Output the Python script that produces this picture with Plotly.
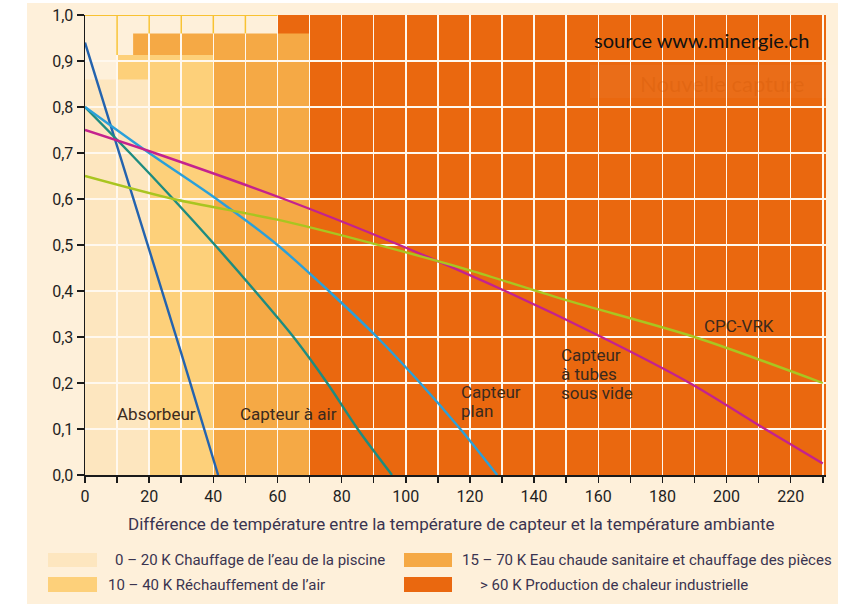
import plotly.graph_objects as go

# ---------------- data ----------------
# application bands (temperature ranges)
band_labels = [
    "0 – 20 K Chauffage de l’eau de la piscine",
    "10 – 40 K Réchauffement de l’air",
    "15 – 70 K Eau chaude sanitaire et chauffage des pièces",
    "> 60 K Production de chaleur industrielle",
]
band_x0 = [0, 10, 15, 60]
band_x1 = [20, 40, 70, 231]
band_top = [0.86, 0.913, 0.96, 1.0]
band_colors = ["#FDE6BF", "#FDD07A", "#F5A945", "#EA680F"]

# efficiency curves
absorbeur_x = [0, 10, 20, 30, 41.5]
absorbeur_y = [0.94, 0.715, 0.49, 0.265, 0.0]

air_x = [0, 14, 27.5, 40.5, 53, 65, 75.5, 85, 95.7]
air_y = [0.80, 0.70, 0.60, 0.50, 0.40, 0.30, 0.20, 0.10, 0.0]

plan_x = [0, 20, 41, 60, 76, 91, 104.5, 117, 128.5]
plan_y = [0.80, 0.70, 0.60, 0.50, 0.40, 0.30, 0.20, 0.10, 0.0]

tubes_x = [0, 21.7, 62, 98, 131, 161, 188.5, 212, 230]
tubes_y = [0.75, 0.70, 0.60, 0.50, 0.40, 0.30, 0.20, 0.10, 0.025]

cpc_x = [0, 27.5, 60, 86, 120, 150, 190, 230]
cpc_y = [0.65, 0.60, 0.555, 0.51, 0.445, 0.38, 0.30, 0.20]

curve_names = ["Absorbeur", "Capteur à air", "Capteur plan",
               "Capteur à tubes sous vide", "CPC-VRK"]
curve_colors = ["#2463AE", "#1E8C80", "#2AA0DA", "#C4228E", "#A9C520"]
curves = [(absorbeur_x, absorbeur_y), (air_x, air_y), (plan_x, plan_y),
          (tubes_x, tubes_y), (cpc_x, cpc_y)]

curve_label_text = ["Absorbeur", "Capteur à air", "Capteur<br>plan",
                    "Capteur<br>à tubes<br>sous vide", "CPC-VRK"]
curve_label_x = [9.4, 47.7, 116.6, 147.8, 192.3]
curve_label_y = [0.133, 0.133, 0.159, 0.22, 0.324]

x_ticks = list(range(0, 231, 10))
x_ticktext = [str(v) if v % 20 == 0 else "" for v in x_ticks]
y_ticks = [i / 10 for i in range(11)]
y_ticktext = [f"{v:.1f}".replace(".", ",") for v in y_ticks]

x_title = "Différence de température entre la température de capteur et la température ambiante"
source_text = "source www.minergie.ch"

# ---------------- figure ----------------
BG = "#FEF0DA"
FONT = "Roboto, 'Open Sans', sans-serif"
W, H = 856, 604
L, T = 85, 15
pw, ph = 741, 460
R, B = W - L - pw, H - T - ph


def px_to_paper_x(px):
    return (px - L) / pw


def px_to_paper_y(py):
    return (T + ph - py) / ph


fig = go.Figure()
shapes = []

# cream page background (paper coords)
shapes.append(dict(type="rect", xref="paper", yref="paper", layer="below",
                   x0=px_to_paper_x(27), x1=px_to_paper_x(838),
                   y0=px_to_paper_y(610), y1=px_to_paper_y(3),
                   fillcolor=BG, line=dict(width=0)))

# bands, drawn from widest (bottom) to narrowest (top)
for i in reversed(range(len(band_x0))):
    shapes.append(dict(type="rect", xref="x", yref="y", layer="below",
                       x0=band_x0[i], x1=band_x1[i], y0=0, y1=band_top[i],
                       fillcolor=band_colors[i], line=dict(width=0)))

# yellow outline of the top uncovered strip
YEL = "#F8C232"
shapes.append(dict(type="line", xref="x", yref="y", layer="between",
                   x0=0, x1=band_x0[3], y0=1.0, y1=1.0,
                   line=dict(color=YEL, width=2)))
for xv in x_ticks:
    if 0 < xv < band_x0[3]:
        cover = [band_top[i] for i in range(len(band_x0))
                 if band_x0[i] <= xv < band_x1[i]]
        top = max(cover) if cover else 0
        if top < 1.0:
            shapes.append(dict(type="line", xref="x", yref="y", layer="between",
                               x0=xv, x1=xv, y0=top, y1=1.0,
                               line=dict(color=YEL, width=1.5)))

# legend swatches
sw_x = [(48, 97), (48, 97), (404, 452), (404, 452)]
sw_y = [(553, 567), (577, 592), (553, 567), (577, 592)]
txt_x = [113, 106, 460, 478]
for i in range(4):
    shapes.append(dict(type="rect", xref="paper", yref="paper", layer="above",
                       x0=px_to_paper_x(sw_x[i][0]), x1=px_to_paper_x(sw_x[i][1]),
                       y0=px_to_paper_y(sw_y[i][1]), y1=px_to_paper_y(sw_y[i][0]),
                       fillcolor=band_colors[i], line=dict(width=0)))

# faint "Nouvelle capture" overlay box
shapes.append(dict(type="rect", xref="paper", yref="paper", layer="above",
                   x0=px_to_paper_x(590), x1=px_to_paper_x(838),
                   y0=px_to_paper_y(98), y1=px_to_paper_y(65),
                   fillcolor="rgba(255,255,255,0.04)", line=dict(width=0)))

# curves
for (xs, ys), name, col in zip(curves, curve_names, curve_colors):
    fig.add_trace(go.Scatter(x=xs, y=ys, mode="lines", name=name,
                             line=dict(color=col, width=2.4, shape="spline",
                                       smoothing=0.8),
                             showlegend=False, hoverinfo="skip"))

annotations = []
LINE_H = 19
for t, xv, yv in zip(curve_label_text, curve_label_x, curve_label_y):
    lines = t.split("<br>")
    n = len(lines)
    for k, ln in enumerate(lines):
        annotations.append(dict(text=ln, x=xv, y=yv, xref="x", yref="y",
                                yshift=((n - 1) / 2 - k) * LINE_H,
                                xanchor="left", yanchor="middle",
                                showarrow=False, align="left",
                                font=dict(family=FONT, size=17,
                                          color="#3A2A1E")))

for i in range(4):
    yc = (sw_y[i][0] + sw_y[i][1]) / 2
    annotations.append(dict(text=band_labels[i], x=px_to_paper_x(txt_x[i]),
                            y=px_to_paper_y(yc), xref="paper", yref="paper",
                            xanchor="left", yanchor="middle", showarrow=False,
                            font=dict(family=FONT, size=15, color="#3A3450")))

annotations.append(dict(text=x_title, x=px_to_paper_x(451.5), y=px_to_paper_y(524),
                        xref="paper", yref="paper", xanchor="center",
                        yanchor="middle", showarrow=False,
                        font=dict(family=FONT, size=17, color="#3A3450")))

annotations.append(dict(text=source_text, x=px_to_paper_x(592), y=px_to_paper_y(40),
                        xref="paper", yref="paper", xanchor="left",
                        yanchor="middle", showarrow=False,
                        font=dict(family="Lato, 'Open Sans', sans-serif",
                                  size=20, color="#111111")))

annotations.append(dict(text="Nouvelle capture", x=px_to_paper_x(638),
                        y=px_to_paper_y(83), xref="paper", yref="paper",
                        xanchor="left", yanchor="middle", showarrow=False,
                        font=dict(family="Lato, 'Open Sans', sans-serif",
                                  size=22, color="rgba(200,80,0,0.22)")))

fig.update_layout(
    width=W, height=H,
    margin=dict(l=L, r=R, t=T, b=B, autoexpand=False),
    paper_bgcolor="white",
    plot_bgcolor=BG,
    separators=",.",
    shapes=shapes,
    annotations=annotations,
    showlegend=False,
)

fig.update_xaxes(range=[0, 231], tickmode="array", tickvals=x_ticks,
                 ticktext=x_ticktext, showgrid=True, gridcolor="#FFF8EE",
                 gridwidth=1.5, zeroline=False, showline=True,
                 linecolor="#1A1A1A", linewidth=1.5, ticks="outside",
                 ticklen=6, tickwidth=1.5, tickcolor="#1A1A1A",
                 tickfont=dict(family=FONT, size=16, color="#1E1E1E"),
                 ticklabeloverflow="allow",
                 automargin=False, fixedrange=True)
fig.update_yaxes(range=[0, 1.0], tickmode="array", tickvals=y_ticks,
                 ticktext=y_ticktext, showgrid=True, gridcolor="#FFF8EE",
                 gridwidth=1.5, zeroline=False, showline=True,
                 linecolor="#1A1A1A", linewidth=1.5, ticks="outside",
                 ticklen=7, tickwidth=1.5, tickcolor="#1A1A1A",
                 tickfont=dict(family=FONT, size=16, color="#1E1E1E"),
                 ticklabeloverflow="allow",
                 automargin=False, fixedrange=True)

# remove the default page margin so the figure sits at the window's corner
fig.write_html("out.html",
               config={"displayModeBar": False, "staticPlot": True},
               post_script="document.body.style.margin='0';"
                           "document.body.style.overflow='hidden';")
